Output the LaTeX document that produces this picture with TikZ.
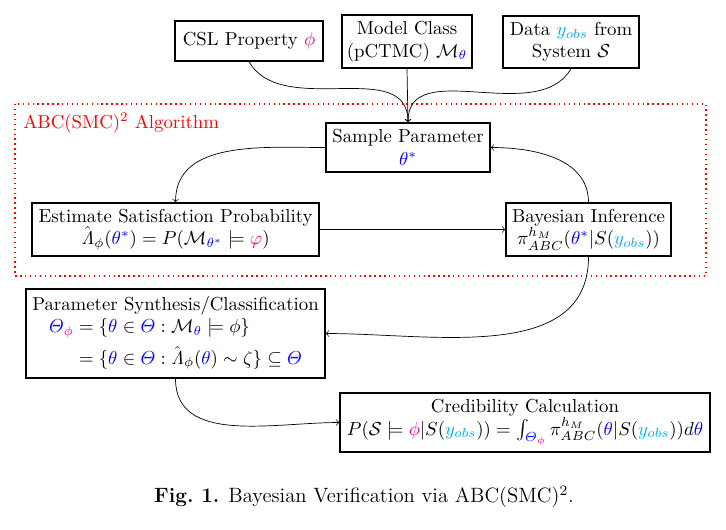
\RequirePackage{fix-cm}
\documentclass[tikz,border=0pt]{standalone}
\usepackage{amsmath}
\usetikzlibrary{positioning}
\definecolor{myphi}{RGB}{236,0,140}
\definecolor{myobs}{RGB}{0,174,239}
\definecolor{mytheta}{RGB}{0,0,255}
\newcommand{\yobs}{\textcolor{myobs}{y_{obs}}}
\newcommand{\ctheta}[1]{\textcolor{mytheta}{#1}}
\newcommand{\cphi}[1]{\textcolor{myphi}{#1}}
\newcommand{\lhat}{\hat{\mathit{\Lambda}}}
\newcommand{\boxfont}{\fontsize{10.7}{12.8}\selectfont}
\tikzset{
    stage/.style={draw, thick, rectangle, align=center, inner sep=2pt},
    flow/.style={->}
}
\begin{document}
\begin{tikzpicture}[x=0.02cm, y=-0.02cm, font=\boxfont]
    \useasboundingbox (0,0) rectangle (726,529);
    % inputs
    \node[stage, minimum width=2.96cm, minimum height=0.80cm] (csl) at (249,41) {CSL Property $\cphi{\phi}$};
    \node[stage, minimum width=2.60cm, minimum height=1.06cm] (model) at (407,41.5) {Model Class\\(pCTMC) $\mathcal{M}_{\ctheta{\theta}}$};
    \node[stage, minimum width=2.72cm, minimum height=1.04cm] (data) at (571,42) {Data $\yobs$ from\\System $\mathcal{S}$};
    % algorithm
    \draw[red, thick, dotted] (15,104) rectangle (706,276);
    \node[red, anchor=north west, inner sep=0pt] (algo) at (23,113) {ABC(SMC)$^2$ Algorithm};
    \node[stage, minimum width=3.28cm, minimum height=0.98cm] (sample) at (408,147.5) {Sample Parameter\\$\ctheta{\theta^*}$};
    \node[stage, minimum width=5.74cm, minimum height=1.06cm] (estimate) at (175.5,229.5) {Estimate Satisfaction Probability\\$\lhat_\phi(\ctheta{\theta^*}) = P(\mathcal{M}_{\ctheta{\theta^*}} \models \cphi{\varphi})$};
    \node[stage, minimum width=3.30cm, minimum height=1.06cm] (bayes) at (588.5,229.5) {Bayesian Inference\\$\pi^{h_M}_{ABC}(\ctheta{\theta^*}|S(\yobs))$};
    % outputs
    \node[stage, minimum width=5.98cm, minimum height=1.78cm] (synth) at (175.5,333.5) {Parameter Synthesis/Classification\\$\begin{aligned}
        \ctheta{\varTheta}_{\cphi{\phi}} &= \{\ctheta{\theta} \in \ctheta{\varTheta} : \mathcal{M}_{\ctheta{\theta}} \models \phi\}\\
        &= \{\ctheta{\theta} \in \ctheta{\varTheta} : \lhat_\phi(\ctheta{\theta}) \sim \zeta\} \subseteq \ctheta{\varTheta}
    \end{aligned}$};
    \node[stage, minimum width=7.40cm, minimum height=1.18cm] (cred) at (525,422.5) {Credibility Calculation\\$P(\mathcal{S} \models \cphi{\phi}|S(\yobs)) = \int_{\ctheta{\varTheta}_{\cphi{\phi}}} \pi^{h_M}_{ABC}(\ctheta{\theta}|S(\yobs))d\ctheta{\theta}$};
    \node[font=\fontsize{11.8}{14.2}\selectfont] (caption) at (364,497) {\textbf{Fig.~1.} Bayesian Verification via ABC(SMC)$^2$.};
    % connectors
    \draw[flow] (csl.south) to[out=-60, in=90] (sample.north);
    \draw[flow] (model.south) -- (sample.north);
    \draw[flow] (data.south) to[out=-120, in=90] (sample.north);
    \draw[flow] (sample.west) to[out=180, in=90] (estimate.north);
    \draw[flow] (estimate.east) -- (bayes.west);
    \draw[flow] (bayes.north) to[out=90, in=0] (sample.east);
    \draw[flow] (bayes.south) to[out=-90, in=0] (synth.east);
    \draw[flow] (synth.south) to[out=-90, in=180] (cred.west);
\end{tikzpicture}
\end{document}
